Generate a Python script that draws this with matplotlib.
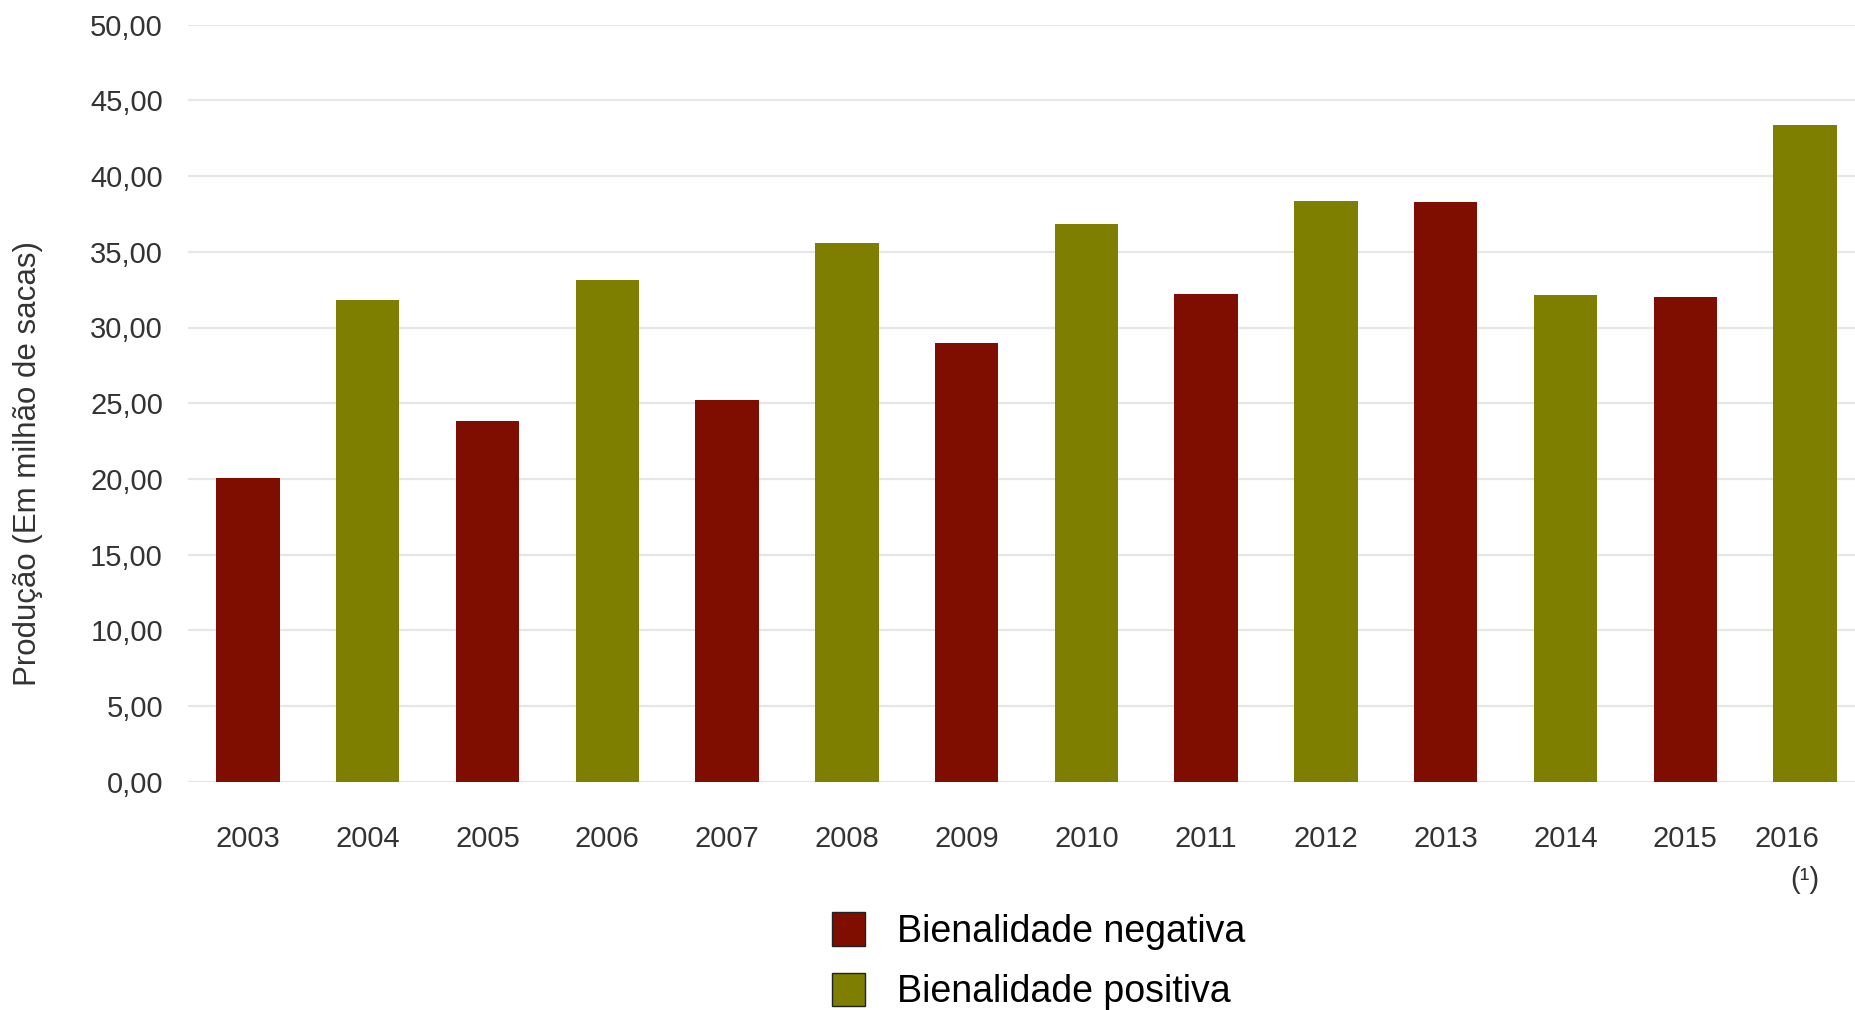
import matplotlib
matplotlib.use("Agg")
import matplotlib.pyplot as plt
from matplotlib.patches import Patch
from matplotlib.transforms import ScaledTranslation

# Coffee production per year (million bags), flagged by biennial cycle
years = ["2003", "2004", "2005", "2006", "2007", "2008", "2009",
         "2010", "2011", "2012", "2013", "2014", "2015", "2016\n(¹)"]
production = [20.07, 31.84, 23.82, 33.17, 25.20, 35.60, 28.96,
              36.83, 32.20, 38.33, 38.27, 32.16, 32.00, 43.40]
cycle = ["negativa", "positiva", "negativa", "positiva", "negativa", "positiva", "negativa",
         "positiva", "negativa", "positiva", "negativa", "positiva", "negativa", "positiva"]

cycle_colors = {"negativa": "#800e00", "positiva": "#7e7e00"}
cycle_labels = {"negativa": "Bienalidade negativa", "positiva": "Bienalidade positiva"}

plt.rcParams["font.family"] = ["Liberation Sans", "DejaVu Sans"]

fig = plt.figure(figsize=(18.56, 10.10), dpi=100)
ax = fig.add_axes([188 / 1856, 1 - 781.7 / 1010, 1677 / 1856, 757 / 1010])

x = range(len(years))
ax.bar(x, production, width=0.53, color=[cycle_colors[c] for c in cycle], zorder=2)

ax.set_xlim(-0.5, len(years) - 0.5)
ax.set_ylim(0, 50)
ax.set_yticks(range(0, 51, 5))
ax.set_yticklabels([f"{v:.2f}".replace(".", ",") for v in range(0, 51, 5)])
ax.set_xticks(list(x))
ax.set_xticklabels(years, multialignment="right", linespacing=1.6)

ax.grid(axis="y", color="#e6e6e6", linewidth=1.6, zorder=0)
ax.set_axisbelow(True)
for side in ax.spines.values():
    side.set_visible(False)
ax.tick_params(axis="both", length=0, labelsize=21, colors="#333333")
ax.tick_params(axis="y", pad=18)
ax.tick_params(axis="x", pad=31)

# the last year label sits a bit left of its bar
last = ax.get_xticklabels()[-1]
last.set_transform(last.get_transform() + ScaledTranslation(-0.18, 0, fig.dpi_scale_trans))

ax.set_ylabel("Produção (Em milhão de sacas)", fontsize=22.5, color="#333333")
ax.yaxis.set_label_coords(-145 / 1677, 0.42)

handles = [Patch(facecolor=cycle_colors[k], edgecolor="#222222", linewidth=1.0, label=cycle_labels[k])
           for k in ("negativa", "positiva")]
fig.legend(handles=handles, loc="upper left", bbox_to_anchor=(832 / 1856, 1 - 912 / 1010),
           frameon=False, fontsize=27, borderpad=0, borderaxespad=0,
           handlelength=0.88, handleheight=1.0, handletextpad=0.85, labelspacing=0.62)

fig.savefig("out.png", dpi=100, facecolor="white")
